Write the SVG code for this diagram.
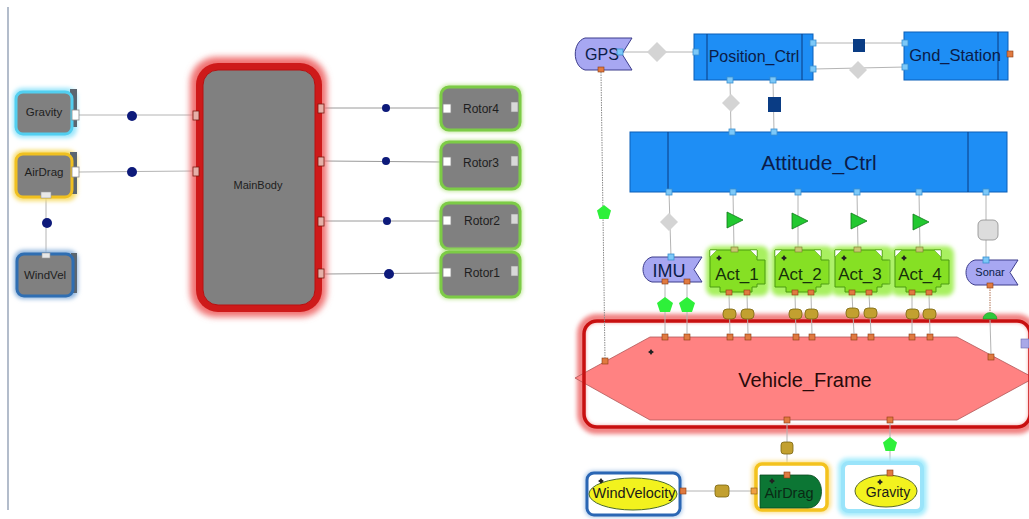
<svg xmlns="http://www.w3.org/2000/svg" width="1029" height="519" viewBox="0 0 1029 519">
<defs>
<style>
text{font-family:"Liberation Sans",Arial,sans-serif;text-anchor:middle}
.lt{font-size:11.5px;fill:#1e1e1e}
.wire{stroke:#b4b4b4;stroke-width:1;fill:none}
.wire2{stroke:#9a9a9a;stroke-width:1;fill:none}
.dot{fill:#0d1a7a}
.gport{fill:#ffffff;stroke:#8a8a8a;stroke-width:.8}
.rport{fill:#e6b0a8;stroke:#7a1a10;stroke-width:.8}
.blk{fill:#1e8ef5;stroke:#0b5fb8;stroke-width:1}
.sep{stroke:#0a3a80;stroke-width:1}
.bt{fill:#0b1c48}
.bport{fill:#7cc8f8;stroke:#3a90d0;stroke-width:.8}
.oport{fill:#e07a40;stroke:#8a3a10;stroke-width:.6}
.lav{fill:#a7a7f2;stroke:#3c3c8c;stroke-width:1}
.act{fill:#86e024;stroke:#4a9a10;stroke-width:1}
.gdia{fill:#d4d4d4}
.dsq{fill:#0a3c84}
.tri{fill:#22c830;stroke:#0e7a18;stroke-width:.8}
.pent{fill:#2ef03a}
.olive{fill:#c2a030;stroke:#7a6410;stroke-width:.8}
.fold{fill:#ffffff;stroke:#4a9a10;stroke-width:.5}
.mv{fill:#222}
.shade{fill:#5b6670}
</style>
<filter id="blur" x="-30%" y="-30%" width="160%" height="160%"><feGaussianBlur stdDeviation="3"/></filter>
<filter id="soft" x="-30%" y="-30%" width="160%" height="160%"><feGaussianBlur stdDeviation="2"/></filter>
<path id="move" d="M0,-3 L1.2,-1.2 L3,0 L1.2,1.2 L0,3 L-1.2,1.2 L-3,0 L-1.2,-1.2 Z"/>
</defs>

<rect width="1029" height="519" fill="#ffffff"/>
<!-- panel divider on the left -->
<line x1="8" y1="7" x2="8" y2="510" stroke="#8090a8" stroke-width="1.2"/>

<!-- vehicle frame sits underneath the wires that land on it -->
<g id="vehicle-frame">
  <rect x="581" y="318" width="452" height="112" rx="16" fill="none" stroke="#f08080" stroke-width="8" filter="url(#soft)"/>
  <path d="M575,378 L650,337 L957,337 L1034,378 L957,420 L650,420 Z" fill="#ff8282" stroke="#b05858" stroke-width=".8"/>
  <rect x="584" y="321" width="446" height="106" rx="13" fill="none" stroke="#c81010" stroke-width="3.5"/>
  <text x="805" y="387" style="font-size:20px;fill:#2a0a0a">Vehicle_Frame</text>
  <use href="#move" class="mv" x="651" y="352"/>
  <rect class="oport" x="662" y="334" width="6" height="6"/>
  <rect class="oport" x="684" y="334" width="6" height="6"/>
  <rect class="oport" x="727" y="334" width="6" height="6"/>
  <rect class="oport" x="745" y="334" width="6" height="6"/>
  <rect class="oport" x="793" y="334" width="6" height="6"/>
  <rect class="oport" x="809" y="334" width="6" height="6"/>
  <rect class="oport" x="851" y="334" width="6" height="6"/>
  <rect class="oport" x="868" y="334" width="6" height="6"/>
  <rect class="oport" x="909" y="334" width="6" height="6"/>
  <rect class="oport" x="927" y="334" width="6" height="6"/>
  <rect class="oport" x="602" y="358" width="6" height="6"/>
  <rect class="oport" x="988" y="354" width="6" height="6"/>
  <rect class="oport" x="784" y="417" width="6" height="6"/>
  <rect class="oport" x="887" y="417" width="6" height="6"/>
  <rect x="1021" y="339" width="8" height="9" fill="#a8a8e8" stroke="#6a6ab0" stroke-width=".6"/>
</g>

<!-- ===== connectors ===== -->
<g id="connectors">
  <!-- left model -->
  <line class="wire" x1="79" y1="115" x2="193" y2="115"/>
  <line class="wire" x1="79" y1="172" x2="193" y2="171"/>
  <line class="wire" x1="46" y1="198" x2="46" y2="253"/>
  <line class="wire2" x1="325" y1="108" x2="443" y2="108"/>
  <line class="wire2" x1="325" y1="161" x2="443" y2="162"/>
  <line class="wire2" x1="325" y1="221" x2="443" y2="221"/>
  <line class="wire2" x1="325" y1="274" x2="443" y2="273"/>
  <circle class="dot" cx="132" cy="116" r="5"/>
  <circle class="dot" cx="132" cy="172" r="5"/>
  <circle class="dot" cx="47" cy="223" r="5"/>
  <circle class="dot" cx="386" cy="108" r="4"/>
  <circle class="dot" cx="386" cy="161" r="4"/>
  <circle class="dot" cx="387" cy="221" r="4"/>
  <circle class="dot" cx="389" cy="274" r="5"/>

  <!-- right model -->
  <line class="wire" x1="621" y1="52" x2="696" y2="52"/>
  <path class="gdia" d="M657,42 L667,52 L657,62 L647,52 Z"/>
  <line class="wire" x1="814" y1="43" x2="905" y2="43"/>
  <rect class="dsq" x="853" y="39" width="12" height="13"/>
  <line class="wire" x1="814" y1="69" x2="905" y2="67"/>
  <path class="gdia" d="M858,61 L867,70 L858,79 L849,70 Z"/>
  <line class="wire" x1="730" y1="80" x2="731" y2="132"/>
  <path class="gdia" d="M731,94 L740,103 L731,112 L722,103 Z"/>
  <line class="wire" x1="773" y1="80" x2="774" y2="132"/>
  <rect class="dsq" x="768" y="97" width="13" height="15"/>

  <line class="wire" x1="669" y1="192" x2="671" y2="257"/>
  <path class="gdia" d="M669,213 L678,222 L669,231 L660,222 Z"/>
  <line class="wire" x1="733" y1="192" x2="734" y2="250"/>
  <line class="wire" x1="798" y1="192" x2="798" y2="250"/>
  <line class="wire" x1="857" y1="192" x2="858" y2="250"/>
  <line class="wire" x1="919" y1="192" x2="920" y2="250"/>
  <path class="tri" d="M727,212 L743,220 L727,228 Z"/>
  <path class="tri" d="M792,213 L808,221 L792,229 Z"/>
  <path class="tri" d="M851,213 L867,221 L851,229 Z"/>
  <path class="tri" d="M913,214 L929,222 L913,230 Z"/>
  <line class="wire" x1="986" y1="192" x2="986" y2="260"/>
  <rect x="978" y="220" width="20" height="20" rx="5" fill="#dcdcdc" stroke="#8a8a8a" stroke-width=".8"/>

  <!-- GPS to frame (dotted) -->
  <line x1="601" y1="72" x2="605" y2="359" stroke="#8a8a8a" stroke-width="1" stroke-dasharray="1.5 1"/>
  <path class="pent" d="M604,205 L611,210.5 L608.5,219 L599.5,219 L597,210.5 Z"/>

  <!-- IMU / actuators to frame -->
  <line class="wire" x1="665" y1="283" x2="665" y2="334"/>
  <line class="wire" x1="687" y1="283" x2="687" y2="334"/>
  <path class="pent" d="M665,297 L673,303 L670,312 L660,312 L657,303 Z"/>
  <path class="pent" d="M687,297 L695,303 L692,312 L682,312 L679,303 Z"/>
  <line class="wire" x1="729" y1="294" x2="730" y2="334"/>
  <line class="wire" x1="747" y1="294" x2="748" y2="334"/>
  <line class="wire" x1="795" y1="294" x2="796" y2="334"/>
  <line class="wire" x1="811" y1="294" x2="812" y2="334"/>
  <line class="wire" x1="852" y1="294" x2="854" y2="334"/>
  <line class="wire" x1="869" y1="294" x2="871" y2="334"/>
  <line class="wire" x1="912" y1="294" x2="912" y2="334"/>
  <line class="wire" x1="929" y1="294" x2="930" y2="334"/>
  <rect class="olive" x="723" y="309" width="13" height="10" rx="4"/>
  <rect class="olive" x="741" y="309" width="13" height="10" rx="4"/>
  <rect class="olive" x="789" y="309" width="13" height="10" rx="4"/>
  <rect class="olive" x="805" y="309" width="13" height="10" rx="4"/>
  <rect class="olive" x="846" y="308" width="13" height="10" rx="4"/>
  <rect class="olive" x="864" y="308" width="13" height="10" rx="4"/>
  <rect class="olive" x="906" y="309" width="13" height="10" rx="4"/>
  <rect class="olive" x="923" y="309" width="13" height="10" rx="4"/>

  <!-- sonar to frame -->
  <line x1="990" y1="287" x2="990" y2="312" stroke="#b07050" stroke-width="1" stroke-dasharray="1.5 1"/>
  <line class="wire" x1="990" y1="320" x2="991" y2="354"/>
  <path d="M983,319 A7,6.5 0 0 1 997,319 Z" fill="#2ec83a" stroke="#1a8a20" stroke-width=".5"/>

  <!-- frame to environment blocks -->
  <line class="wire" x1="787" y1="423" x2="787" y2="474"/>
  <rect class="olive" x="781" y="442" width="12" height="12" rx="3"/>
  <line class="wire" x1="890" y1="423" x2="890" y2="472"/>
  <path class="pent" d="M890,437 L897,442.5 L894.5,451 L885.5,451 L883,442.5 Z"/>
  <line class="wire" x1="686" y1="491" x2="752" y2="491"/>
  <rect class="olive" x="715" y="485" width="14" height="12" rx="3"/>
</g>

<!-- ===== left model nodes ===== -->
<g id="gravity-block">
  <rect x="13" y="88" width="64" height="50" rx="9" fill="#9be6fb" filter="url(#soft)"/>
  <rect class="shade" x="70" y="89" width="7" height="38"/>
  <rect x="16" y="92" width="56" height="42" rx="7" fill="#808080" stroke="#52cff0" stroke-width="3"/>
  <text class="lt" x="44" y="116">Gravity</text>
  <rect class="gport" x="72" y="110" width="7" height="10"/>
</g>
<g id="airdrag-block">
  <rect x="13" y="150" width="64" height="51" rx="9" fill="#f7dc6a" filter="url(#soft)"/>
  <rect class="shade" x="70" y="152" width="7" height="42"/>
  <rect x="16" y="154" width="56" height="43" rx="7" fill="#808080" stroke="#f0c020" stroke-width="3"/>
  <text class="lt" x="44" y="176">AirDrag</text>
  <rect class="gport" x="72" y="167" width="7" height="10"/>
  <rect x="41" y="192" width="10" height="6" fill="#e8e8e8" stroke="#999" stroke-width=".6"/>
</g>
<g id="windvel-block">
  <rect x="14" y="250" width="64" height="49" rx="9" fill="#8fb4dc" filter="url(#soft)"/>
  <rect class="shade" x="71" y="253" width="6" height="40"/>
  <rect x="17" y="254" width="56" height="42" rx="7" fill="#808080" stroke="#2f6eb2" stroke-width="3"/>
  <text class="lt" x="45" y="279">WindVel</text>
  <rect x="42" y="253" width="8" height="5" fill="#e8e8e8" stroke="#999" stroke-width=".6"/>
</g>
<g id="mainbody-block">
  <rect x="190" y="57" width="137" height="260" rx="26" fill="#f07272" filter="url(#blur)"/>
  <rect x="196" y="63" width="126" height="249" rx="22" fill="#ce1a1a"/>
  <rect x="203" y="70" width="112" height="235" rx="15" fill="#808080" stroke="#b81010" stroke-width="1"/>
  <text class="lt" x="258" y="189" style="font-size:11px">MainBody</text>
  <rect class="rport" x="193" y="111" width="6" height="9"/>
  <rect class="rport" x="193" y="167" width="6" height="9"/>
  <rect class="rport" x="318" y="104" width="6" height="9"/>
  <rect class="rport" x="318" y="157" width="6" height="9"/>
  <rect class="rport" x="318" y="217" width="6" height="9"/>
  <rect class="rport" x="318" y="269" width="6" height="9"/>
</g>
<g id="rotor4">
  <rect x="439" y="85" width="83" height="47" rx="9" fill="#b7e48a" filter="url(#soft)"/>
  <rect x="441" y="87" width="79" height="43" rx="8" fill="#808080" stroke="#7ccb46" stroke-width="3"/>
  <text class="lt" x="481" y="113" style="font-size:12px">Rotor4</text>
  <rect class="gport" x="443" y="104" width="8" height="9"/>
  <rect x="511" y="102" width="7" height="10" fill="#d8d8d8" stroke="#888" stroke-width=".6"/>
</g>
<g id="rotor3">
  <rect x="439" y="140" width="83" height="51" rx="9" fill="#b7e48a" filter="url(#soft)"/>
  <rect x="441" y="142" width="79" height="47" rx="8" fill="#808080" stroke="#7ccb46" stroke-width="3"/>
  <text class="lt" x="481" y="167" style="font-size:12px">Rotor3</text>
  <rect class="gport" x="443" y="157" width="8" height="9"/>
  <rect x="511" y="156" width="7" height="10" fill="#d8d8d8" stroke="#888" stroke-width=".6"/>
</g>
<g id="rotor2">
  <rect x="439" y="201" width="83" height="50" rx="9" fill="#b7e48a" filter="url(#soft)"/>
  <rect x="441" y="203" width="79" height="46" rx="8" fill="#808080" stroke="#7ccb46" stroke-width="3"/>
  <text class="lt" x="482" y="225" style="font-size:12px">Rotor2</text>
  <rect class="gport" x="443" y="216" width="8" height="9"/>
  <rect x="511" y="214" width="7" height="10" fill="#d8d8d8" stroke="#888" stroke-width=".6"/>
</g>
<g id="rotor1">
  <rect x="439" y="250" width="83" height="49" rx="9" fill="#b7e48a" filter="url(#soft)"/>
  <rect x="441" y="252" width="79" height="45" rx="8" fill="#808080" stroke="#7ccb46" stroke-width="3"/>
  <text class="lt" x="482" y="277" style="font-size:12px">Rotor1</text>
  <rect class="gport" x="443" y="268" width="8" height="9"/>
  <rect x="511" y="266" width="7" height="10" fill="#d8d8d8" stroke="#888" stroke-width=".6"/>
</g>

<!-- ===== right model nodes ===== -->
<g id="gps">
  <path class="lav" d="M585,38 L632,38 L622,54 L632,70 L585,70 C572,66 572,42 585,38 Z"/>
  <text class="bt" x="602" y="60" style="font-size:16px">GPS</text>
  <rect class="bport" x="617" y="49" width="6" height="6"/>
  <rect class="oport" x="598" y="67" width="6" height="5"/>
</g>
<g id="position-ctrl">
  <rect class="blk" x="694" y="34" width="119" height="46"/>
  <line class="sep" x1="707" y1="34" x2="707" y2="80"/>
  <line class="sep" x1="802" y1="34" x2="802" y2="80"/>
  <text class="bt" x="754" y="62" style="font-size:16px">Position_Ctrl</text>
  <rect class="bport" x="693" y="49" width="6" height="6"/>
  <rect class="bport" x="810" y="40" width="6" height="6"/>
  <rect class="bport" x="810" y="66" width="6" height="6"/>
  <rect class="bport" x="727" y="77" width="6" height="6"/>
  <rect class="bport" x="770" y="77" width="6" height="6"/>
</g>
<g id="gnd-station">
  <rect class="blk" x="904" y="32" width="104" height="48"/>
  <line class="sep" x1="998" y1="32" x2="998" y2="80"/>
  <text class="bt" x="955" y="61" style="font-size:16.5px">Gnd_Station</text>
  <rect class="bport" x="902" y="40" width="6" height="6"/>
  <rect class="bport" x="902" y="64" width="6" height="6"/>
  <rect class="oport" x="1007" y="51" width="6" height="6"/>
</g>
<g id="attitude-ctrl">
  <rect class="blk" x="630" y="132" width="377" height="60"/>
  <line class="sep" x1="668" y1="132" x2="668" y2="192"/>
  <line class="sep" x1="968" y1="132" x2="968" y2="192"/>
  <text class="bt" x="819" y="170" style="font-size:21px">Attitude_Ctrl</text>
  <rect class="bport" x="729" y="129" width="6" height="6"/>
  <rect class="bport" x="771" y="129" width="6" height="6"/>
  <rect class="bport" x="666" y="189" width="6" height="6"/>
  <rect class="bport" x="730" y="189" width="6" height="6"/>
  <rect class="bport" x="795" y="189" width="6" height="6"/>
  <rect class="bport" x="854" y="189" width="6" height="6"/>
  <rect class="bport" x="916" y="189" width="6" height="6"/>
  <rect class="bport" x="983" y="189" width="6" height="6"/>
</g>
<g id="imu">
  <path class="lav" d="M652,257 L702,257 L694,269.5 L702,282 L652,282 C640,279 640,260 652,257 Z"/>
  <text class="bt" x="669" y="277" style="font-size:18px">IMU</text>
  <rect class="bport" x="668" y="254" width="6" height="6"/>
  <rect class="oport" x="662" y="279" width="6" height="5"/>
  <rect class="oport" x="684" y="279" width="6" height="5"/>
</g>
<g id="sonar">
  <path class="lav" d="M975,260 L1018,260 L1010,272.5 L1018,285 L975,285 C963,282 963,263 975,260 Z"/>
  <text class="bt" x="990" y="276" style="font-size:11px">Sonar</text>
  <rect class="bport" x="983" y="257" width="6" height="6"/>
  <rect class="oport" x="987" y="283" width="6" height="5"/>
</g>

<g id="act-1">
  <rect x="706" y="246" width="63" height="50" rx="8" fill="#a8f060" filter="url(#soft)"/>
  <path class="act" d="M710,250 L757,250 L757,260 L765,260 L765,284 L757,284 L757,287 L752,287 L752,292 L720,292 L720,287 L710,287 Z"/>
  <path class="fold" d="M710,250 L717,250 L710,257 Z"/>
  <path class="fold" d="M757,250 L750,250 L757,257 Z"/>
  <use href="#move" class="mv" x="719" y="258"/>
  <text x="737" y="280" style="font-size:17px;fill:#15300a">Act_1</text>
  <rect x="731" y="247" width="7" height="5" fill="#c8c870" stroke="#7a7a30" stroke-width=".6"/>
  <rect class="oport" x="726" y="290" width="6" height="5"/>
  <rect class="oport" x="744" y="290" width="6" height="5"/>
</g>
<g id="act-2">
  <rect x="771" y="246" width="63" height="50" rx="8" fill="#a8f060" filter="url(#soft)"/>
  <path class="act" d="M775,250 L821,250 L821,260 L829,260 L829,284 L821,284 L821,287 L816,287 L816,292 L786,292 L786,287 L775,287 Z"/>
  <path class="fold" d="M775,250 L782,250 L775,257 Z"/>
  <path class="fold" d="M821,250 L814,250 L821,257 Z"/>
  <use href="#move" class="mv" x="784" y="258"/>
  <text x="800" y="280" style="font-size:17px;fill:#15300a">Act_2</text>
  <rect x="795" y="247" width="7" height="5" fill="#c8c870" stroke="#7a7a30" stroke-width=".6"/>
  <rect class="oport" x="792" y="290" width="6" height="5"/>
  <rect class="oport" x="808" y="290" width="6" height="5"/>
</g>
<g id="act-3">
  <rect x="831" y="246" width="63" height="50" rx="8" fill="#a8f060" filter="url(#soft)"/>
  <path class="act" d="M835,250 L882,250 L882,260 L890,260 L890,284 L882,284 L882,287 L877,287 L877,292 L845,292 L845,287 L835,287 Z"/>
  <path class="fold" d="M835,250 L842,250 L835,257 Z"/>
  <path class="fold" d="M882,250 L875,250 L882,257 Z"/>
  <use href="#move" class="mv" x="844" y="258"/>
  <text x="860" y="280" style="font-size:17px;fill:#15300a">Act_3</text>
  <rect x="854" y="247" width="7" height="5" fill="#c8c870" stroke="#7a7a30" stroke-width=".6"/>
  <rect class="oport" x="849" y="290" width="6" height="5"/>
  <rect class="oport" x="866" y="290" width="6" height="5"/>
</g>
<g id="act-4">
  <rect x="891" y="246" width="63" height="50" rx="8" fill="#a8f060" filter="url(#soft)"/>
  <path class="act" d="M895,250 L941,250 L941,260 L949,260 L949,284 L941,284 L941,287 L936,287 L936,292 L906,292 L906,287 L895,287 Z"/>
  <path class="fold" d="M895,250 L902,250 L895,257 Z"/>
  <path class="fold" d="M941,250 L934,250 L941,257 Z"/>
  <use href="#move" class="mv" x="904" y="258"/>
  <text x="920" y="280" style="font-size:17px;fill:#15300a">Act_4</text>
  <rect x="916" y="247" width="7" height="5" fill="#c8c870" stroke="#7a7a30" stroke-width=".6"/>
  <rect class="oport" x="909" y="290" width="6" height="5"/>
  <rect class="oport" x="926" y="290" width="6" height="5"/>
</g>

<g id="wind-velocity">
  <rect x="585" y="471" width="97" height="46" rx="8" fill="#9ec0e6" filter="url(#soft)"/>
  <rect x="587" y="473" width="93" height="42" rx="7" fill="#ffffff" stroke="#2a66b4" stroke-width="3"/>
  <ellipse cx="633" cy="494" rx="44" ry="16" fill="#f2f21e" stroke="#4a6a2a" stroke-width="1"/>
  <use href="#move" class="mv" x="601" y="481"/>
  <text x="634" y="498" style="font-size:14.5px;fill:#1a1a1a">WindVelocity</text>
  <rect class="oport" x="680" y="488" width="6" height="6"/>
</g>
<g id="airdrag">
  <rect x="752" y="461" width="79" height="52" rx="9" fill="#fbe08a" filter="url(#soft)"/>
  <rect x="756" y="464" width="71" height="46" rx="6" fill="#ffffff" stroke="#f3c21e" stroke-width="3.5"/>
  <path d="M760,475 L808,475 C826,475 826,508 808,508 L760,508 Z" fill="#0c7634" stroke="#0a4a20" stroke-width=".8"/>
  <use href="#move" class="mv" x="772" y="481"/>
  <text x="789" y="498" style="font-size:14.5px;fill:#0a2a14">AirDrag</text>
  <rect class="oport" x="784" y="472" width="6" height="6"/>
  <rect x="751" y="488" width="6" height="6" fill="#f0a040" stroke="#8a5a10" stroke-width=".6"/>
</g>
<g id="gravity">
  <rect x="838" y="458" width="89" height="58" rx="9" fill="#a6ecfc" filter="url(#soft)"/>
  <rect x="843" y="463" width="79" height="48" rx="6" fill="#ffffff" stroke="#9ae4fa" stroke-width="4"/>
  <ellipse cx="886" cy="491" rx="31" ry="16" fill="#f2f21e" stroke="#5a6a2a" stroke-width="1"/>
  <use href="#move" class="mv" x="880" y="482"/>
  <text x="888" y="497" style="font-size:14px;fill:#1a1a1a">Gravity</text>
  <rect class="oport" x="887" y="470" width="6" height="6"/>
</g>
</svg>
